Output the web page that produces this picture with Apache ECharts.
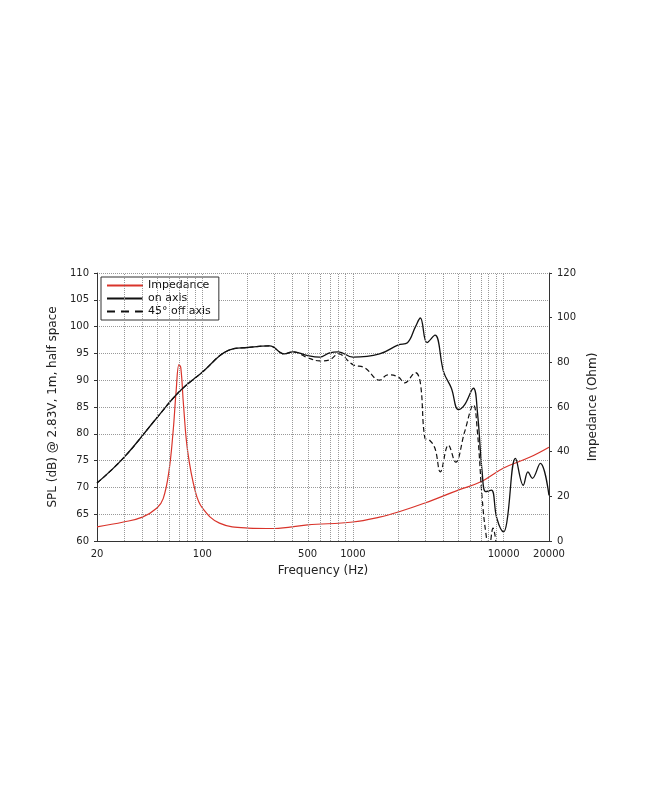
<!DOCTYPE html><html><head><meta charset="utf-8"><script src="https://cdn.jsdelivr.net/npm/echarts@6/dist/echarts.min.js"></script>
<style>body{margin:0;background:#fff}#c{width:650px;height:794px}</style></head><body><div id="c"></div><script>
const onFreq=[20,30,50,70,100,150,200,280,350,400,500,600,700,800,1000,1500,2000,2300,2600,2800,3100,3500,4000,4500,5000,5500,6300,6700,7200,7600,8300,9000,10000,10500,12000,13500,14500,15500,17500,20000];
const onSpl=[70.8,75.5,83,87.8,91.5,95.6,96.1,96.4,94.9,95.3,94.6,94.3,95.1,95.3,94.3,94.9,96.6,97,100,101.6,97,98.4,91.5,88.5,84.5,85.4,88.5,84,72.9,69.2,69.5,64.3,61.7,63.5,75.4,70.4,72.9,71.7,74.5,68.5];
const offFreq=[20,30,50,70,100,150,200,280,350,400,500,600,700,800,1000,1200,1500,1700,2000,2200,2600,2800,3000,3200,3500,3800,4300,4800,5500,6300,6700,7200,7600,8000,8500,9000];
const offSpl=[70.8,75.5,83,87.8,91.5,95.6,96.1,96.4,94.9,95.3,94.2,93.6,93.8,94.9,92.9,92.3,90,91,90.6,89.5,91.4,89.5,79.2,78.9,77.3,72.9,77.9,74.7,80.3,85.4,80.3,68,61.7,58.7,62.4,58.7];
const impFreq=[20,30,40,50,55,60,64,67,70,72,75,80,90,100,130,200,300,500,1000,1500,2000,3000,5000,7000,10000,15000,20000];
const impOhm=[6.3,8.5,10.7,14.8,19,31,49,67,79,77.5,61,40,22,14.8,8,5.8,5.6,7.2,8.5,10.7,13,17,22.8,26.4,32.7,37.6,42];
const xLabels=[20,100,500,1000,10000,20000];
const gridFreqs=[30,40,50,60,70,80,90,100,200,300,400,500,600,700,800,900,1000,2000,3000,4000,5000,6000,7000,8000,9000,10000];
const L=Math.log10;
const pts=(f,v)=>f.map((x,i)=>[L(x),v[i]]);
const chart=echarts.init(document.getElementById('c'));
const ff='"DejaVu Sans",sans-serif';
chart.setOption({
 animation:false,
 grid:{left:97,right:101,top:273,bottom:253},
 legend:{left:101,top:277,orient:'vertical',itemWidth:36,itemHeight:2,itemGap:2,padding:[3,8,3,6],borderColor:'#333',borderWidth:1,backgroundColor:'#fff',textStyle:{fontFamily:ff,fontSize:11,color:'#111'},
   data:[{name:'Impedance',icon:'rect'},{name:'on axis',icon:'rect'},{name:'45° off axis',icon:'path://M0,0h8v2h-8zM14,0h8v2h-8zM28,0h8v2h-8z'}]},
 xAxis:{type:'value',min:L(20),max:L(20000),name:'Frequency (Hz)',nameLocation:'middle',nameGap:24,nameTextStyle:{fontFamily:ff,fontSize:12,color:'#222'},
   axisLine:{lineStyle:{color:'#333'}},splitLine:{show:false},axisTick:{show:false},
   axisLabel:{customValues:xLabels.map(L),formatter:v=>String(Math.round(Math.pow(10,v))),fontFamily:ff,fontSize:10,color:'#222'}},
 yAxis:[{type:'value',min:60,max:110,interval:5,name:'SPL (dB) @ 2.83V, 1m, half space',nameLocation:'middle',nameGap:30,nameTextStyle:{fontFamily:ff,fontSize:12,color:'#222'},
   axisLine:{show:true,lineStyle:{color:'#333'}},axisTick:{show:true,length:3},axisLabel:{fontFamily:ff,fontSize:10,color:'#222'},splitLine:{lineStyle:{type:'dotted',color:'#999'}}},
  {type:'value',min:0,max:120,interval:20,name:'Impedance (Ohm)',nameLocation:'middle',nameGap:30,nameTextStyle:{fontFamily:ff,fontSize:12,color:'#222'},
   axisLine:{show:true,lineStyle:{color:'#333'}},axisTick:{show:true,length:3},axisLabel:{fontFamily:ff,fontSize:10,color:'#222'},splitLine:{show:false}}],
 series:[
  {type:'line',name:'grid',data:[],silent:true,markLine:{silent:true,symbol:'none',label:{show:false},lineStyle:{type:'dotted',color:'#999',width:1},data:gridFreqs.map(f=>({xAxis:L(f)}))}},
  {type:'line',name:'Impedance',yAxisIndex:1,data:pts(impFreq,impOhm),smooth:0.4,showSymbol:false,lineStyle:{color:'#d9342b',width:1.2},itemStyle:{color:'#d9342b'}},
  {type:'line',name:'45° off axis',data:pts(offFreq,offSpl),smooth:0.4,showSymbol:false,clip:true,lineStyle:{color:'#111',width:1.2,type:[5,3]},itemStyle:{color:'#111'}},
  {type:'line',name:'on axis',data:pts(onFreq,onSpl),smooth:0.4,showSymbol:false,lineStyle:{color:'#111',width:1.3},itemStyle:{color:'#111'}}
 ]
});
</script></body></html>
